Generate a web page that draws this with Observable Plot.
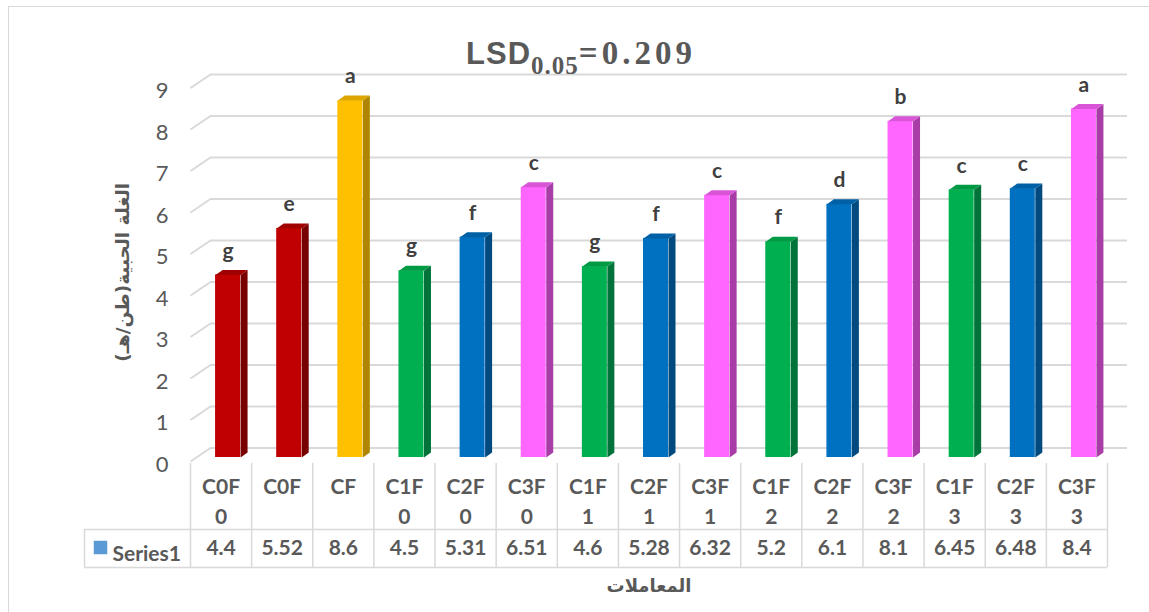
<!DOCTYPE html>
<html>
<head>
<meta charset="utf-8">
<script src="https://cdn.jsdelivr.net/npm/d3@7"></script>
<script src="https://cdn.jsdelivr.net/npm/@observablehq/plot@0.6"></script>
<style>
  html, body { margin: 0; padding: 0; background: #fff; overflow: hidden; }
  #wrap { position: relative; width: 1149px; height: 612px; overflow: hidden; }
  #frame { position: absolute; left: 8px; top: 6px; width: 1300px; height: 800px;
           border: 1.5px solid #d9d9d9; box-sizing: border-box; pointer-events: none; }
  #chart { position: absolute; left: 0; top: 0; }
  #title { position: absolute; left: 0; top: 37px; width: 1162px; text-align: center;
           color: #595959; font-weight: bold; white-space: nowrap; line-height: 1; }
  #title .lsd { font-family: "Liberation Sans", Arial, sans-serif; font-size: 31px; letter-spacing: 1px; }
  #title sub { font-family: "Liberation Serif", "Times New Roman", serif; font-size: 25px;
               vertical-align: -10px; letter-spacing: 1px; }
  #title .val { font-family: "Liberation Serif", "Times New Roman", serif; font-size: 33px;
                letter-spacing: 4px; }
</style>
</head>
<body>
<div id="wrap">
  <div id="chart"></div>
  <div id="frame"></div>
  <div id="title"><span class="lsd">LSD</span><sub>0.05</sub><span class="val">=0.209</span></div>
</div>
<script>
// Treatments, grain yield (t/ha) and LSD letter groups
const categories = ["C0F0", "C0F", "CF", "C1F0", "C2F0", "C3F0", "C1F1", "C2F1", "C3F1",
                    "C1F2", "C2F2", "C3F2", "C1F3", "C2F3", "C3F3"];
const values = [4.4, 5.52, 8.6, 4.5, 5.31, 6.51, 4.6, 5.28, 6.32, 5.2, 6.1, 8.1, 6.45, 6.48, 8.4];
const letters = ["g", "e", "a", "g", "f", "c", "g", "f", "c", "f", "d", "b", "c", "c", "a"];
const yTicks = [0, 1, 2, 3, 4, 5, 6, 7, 8, 9];
const seriesName = "Series1";
const xTitle = "المعاملات";
const yTitle = "الغلة الحبية(طن/هـ)";

// Face colours per treatment group (front, side, top)
const shades = {
  C0: {front: "#C00000", side: "#780000", top: "#A00000"},
  CF: {front: "#FFC000", side: "#B08500", top: "#DDA600"},
  C1: {front: "#00B050", side: "#00733A", top: "#009A45"},
  C2: {front: "#0070C0", side: "#004A80", top: "#0060A6"},
  C3: {front: "#FF66FF", side: "#A83DA8", top: "#D855D8"}
};

// Layout
const W = 1149, H = 612;
const mL = 190, mR = 42, mT = 87.5, mB = 151;
const n = categories.length;
const yMax = 9;
const pxX = (W - mL - mR) / n;      // pixels per category
const pxY = (H - mT - mB) / yMax;   // pixels per unit of yield
const toX = px => px / pxX;
const toY = px => px / pxY;

const barShift = {dx: 7, dy: -4};   // bars sit a little back from the floor edge
const half = toX(12.5);              // half width of a bar's front face
const depthX = toX(7), depthY = toY(5);
const wall = {dx: 20, dy: 13.5};     // back wall offset from the floor edge

const rows = categories.map((c, i) => ({
  i, c, v: values[i], letter: letters[i], shade: shades[c.slice(0, 2)]
}));

const sideFaces = rows.flatMap(d => {
  const a = d.i + half;
  return [[a, 0], [a + depthX, depthY], [a + depthX, d.v + depthY], [a, d.v]]
    .map(([x, y]) => ({i: d.i, x, y, fill: d.shade.side}));
});
const topFaces = rows.flatMap(d => {
  const a = d.i - half, b = d.i + half;
  return [[a, d.v], [b, d.v], [b + depthX, d.v + depthY], [a + depthX, d.v + depthY]]
    .map(([x, y]) => ({i: d.i, x, y, fill: d.shade.top}));
});

const header = c => c.replace(/F(\d)$/, "F\n$1");
const grid = "#d9d9d9";
const ink = "#595959";
const tableBottom = 106, valueRowTop = 68, headerTop = 2, legendLeft = 106;

const chart = Plot.plot({
  width: W, height: H,
  marginLeft: mL, marginRight: mR, marginTop: mT, marginBottom: mB,
  x: {domain: [-0.5, n - 0.5], axis: null},
  y: {domain: [0, yMax], axis: null},
  color: {type: "identity"},
  style: {fontFamily: "Lato, 'Open Sans', sans-serif", fontSize: "20px", color: ink,
          background: "transparent", overflow: "visible"},
  marks: [
    // back wall gridlines and their floor diagonals
    Plot.ruleY(yTicks, {y: d => d, dx: wall.dx, dy: -wall.dy, stroke: grid, strokeWidth: 2}),
    Plot.link(yTicks, {x1: -0.5, y1: d => d, x2: -0.5 + toX(wall.dx), y2: d => d + toY(wall.dy),
                       stroke: grid, strokeWidth: 2}),
    // 3D columns
    Plot.rect(rows, {x1: d => d.i - half, x2: d => d.i + half, y1: 0, y2: "v",
                     fill: d => d.shade.front, dx: barShift.dx, dy: barShift.dy}),
    Plot.line(sideFaces, {x: "x", y: "y", z: "i", fill: "fill", stroke: null,
                          dx: barShift.dx, dy: barShift.dy}),
    Plot.line(topFaces, {x: "x", y: "y", z: "i", fill: "fill", stroke: null,
                         dx: barShift.dx, dy: barShift.dy}),
    // significance letters
    Plot.text(rows, {x: "i", y: "v", text: "letter", dx: barShift.dx, dy: barShift.dy - 24,
                     fontWeight: "bold", fontSize: 21, fill: "#404040"}),
    // y tick labels
    Plot.text(yTicks, {x: -0.5, y: d => d, text: d => String(d), textAnchor: "end",
                       dx: -22, dy: 3, fontSize: 22, fill: ink}),
    // data table grid
    Plot.ruleX(d3.range(n + 1).map(k => k - 0.5), {x: d => d, stroke: grid, strokeWidth: 1.5,
               insetTop: H - mB - mT + headerTop, insetBottom: -tableBottom}),
    Plot.ruleX([-0.5], {x: d => d, dx: -legendLeft, stroke: grid, strokeWidth: 1.5,
               insetTop: H - mB - mT + valueRowTop, insetBottom: -tableBottom}),
    Plot.ruleY([0], {y: d => d, dy: valueRowTop, stroke: grid, strokeWidth: 1.5, insetLeft: -legendLeft}),
    Plot.ruleY([0], {y: d => d, dy: tableBottom, stroke: grid, strokeWidth: 1.5, insetLeft: -legendLeft}),
    // data table text
    Plot.text(rows, {x: "i", text: d => header(d.c), frameAnchor: "bottom", lineAnchor: "top",
                     lineHeight: 1.4, dy: 12, fontWeight: "bold", fontSize: 21, fill: ink}),
    Plot.text(rows, {x: "i", text: d => String(d.v), frameAnchor: "bottom", dy: 93,
                     fontWeight: "bold", fontSize: 21, fill: ink}),
    Plot.dot([seriesName], {x: -0.5, y: 0, dx: -90, dy: 86, symbol: "square", r: 7.6,
                            fill: "#5B9BD5", stroke: null}),
    Plot.text([seriesName], {x: -0.5, y: 0, text: d => d, textAnchor: "start", dx: -78, dy: 93,
                             fontWeight: "bold", fontSize: 21, fill: ink}),
    // axis titles
    Plot.text([xTitle], {text: d => d, frameAnchor: "bottom", dy: 130, fontWeight: "bold",
                         fontSize: 18, fill: ink, fontFamily: "DejaVu Sans"}),
    Plot.text([yTitle], {text: d => d, frameAnchor: "left", dx: -67, dy: 87, rotate: -90,
                         fontWeight: "bold", fontSize: 18.5, fill: ink, fontFamily: "DejaVu Sans"})
  ]
});
document.getElementById("chart").appendChild(chart);
</script>
</body>
</html>
